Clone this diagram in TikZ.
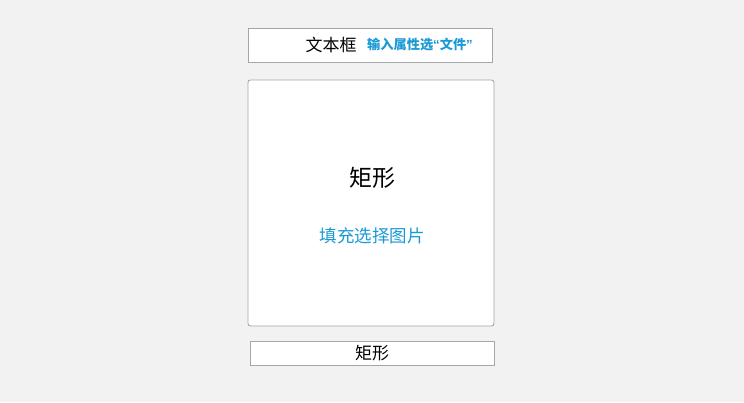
\documentclass[tikz,border=0pt]{standalone}
\usepackage{fontspec}
\setmainfont{Noto Sans CJK SC}
\newfontfamily\latinq{Liberation Sans}
\definecolor{bggray}{HTML}{F2F2F2}
\definecolor{boxline}{HTML}{A6A6A6}
\definecolor{hintblue}{HTML}{1A9AD6}
\begin{document}
\begin{tikzpicture}[x=1pt,y=-1pt,
  panel/.style={draw=boxline,fill=white,line width=0.9pt},
  hint/.style={text=hintblue,inner sep=0pt}]
\useasboundingbox[fill=bggray] (0,0) rectangle (744,402);
\draw[panel] (248,28) rectangle (492,62);
\draw[panel,rounded corners=2.5pt] (248,80) rectangle (494,326);
\draw[panel] (250,341) rectangle (494,365);
\node[inner sep=0pt,font=\fontsize{17}{20}\selectfont] (tbox) at (331,45) {文本框};
\node[hint,anchor=west,font=\bfseries\fontsize{13.2}{15}\selectfont] (tboxhint) at (367,45) {输入属性选{\latinq “}文件{\latinq ”}};
\node[inner sep=0pt,font=\fontsize{23}{27}\selectfont] (rect) at (372,178) {矩形};
\node[hint,font=\fontsize{17.5}{21}\selectfont] (recthint) at (372,236) {填充选择图片};
\node[inner sep=0pt,font=\fontsize{17}{20}\selectfont] (caption) at (372,353) {矩形};
\end{tikzpicture}
\end{document}
